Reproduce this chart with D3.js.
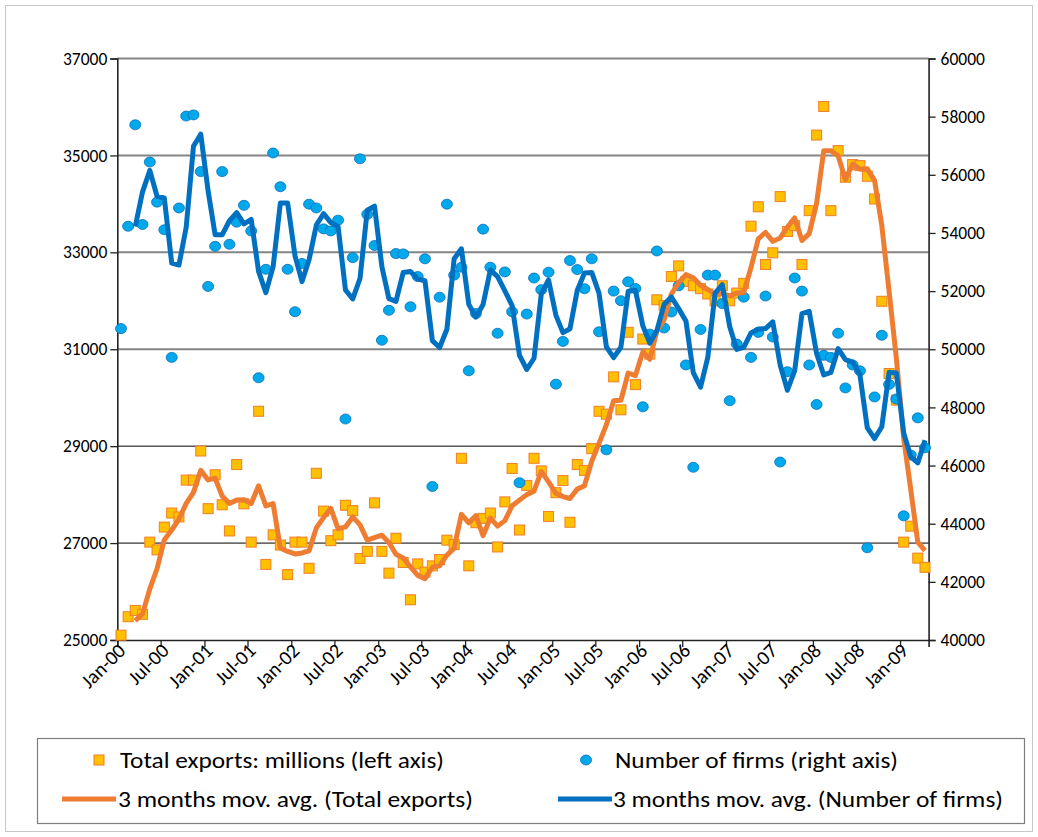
<!DOCTYPE html>
<html><head><meta charset="utf-8">
<script src="https://cdn.jsdelivr.net/npm/d3@7/dist/d3.min.js"></script>
<style>
body{margin:0;background:#fff}
text{font-family:Carlito,Lato,"Open Sans",sans-serif;fill:#000}
</style>
</head><body>
<svg id="chart" width="1038" height="837"></svg>
<script>
// ---- data (monthly, Jan-2000 .. Apr-2009) ----
const firstMonth = new Date(2000, 0, 1);
const exportsMillions = [
25100,25480,25610,25530,27020,26860,27330,27620,27540,28300,28300,28900,
27710,28410,27790,27250,28620,27810,27020,29720,26560,27170,26960,26350,
27020,27020,26480,28440,27660,27050,27170,27780,27670,26680,26830,27830,
26830,26380,27100,26600,25830,26570,26400,26530,26660,27060,26970,28750,
26530,27420,27510,27620,26920,27850,28540,27270,28190,28750,28490,27550,
28040,28290,27430,28620,28500,28950,29720,29660,30430,29750,31350,30270,
31210,30900,32020,31900,32500,32720,32400,32310,32250,32140,32000,32310,
32000,32160,32360,33540,33940,32750,32990,34150,33430,33550,32750,33860,
35420,36010,33860,35100,34550,34810,34790,34570,34100,31990,30500,29950,
27020,27350,26690,26500];
const numberOfFirms = [
50710,54230,57720,54290,56440,55060,54110,49720,54860,58020,58060,56110,
52160,53540,56110,53610,54370,54950,54070,49020,52750,56750,55590,52750,
51290,52950,54990,54860,54140,54070,54440,47600,53150,56550,54640,53570,
50310,51340,53290,53280,51460,52500,53110,45280,51790,54990,52550,52820,
49260,51230,54130,52820,50550,52660,51290,45410,51210,52450,52050,52650,
48800,50270,53050,52740,52080,53110,50600,46540,52000,51670,52320,52090,
48020,50520,53380,50730,51280,52180,49460,45940,50680,52550,52550,51570,
48230,50180,51790,49720,50580,51830,50420,46120,49230,52450,52000,49460,
48100,49790,49720,50550,48670,49460,49260,43170,48360,50480,48790,48290,
44270,46360,47640,46610];
const xTickLabels = ["Jan-00","Jul-00","Jan-01","Jul-01","Jan-02","Jul-02","Jan-03","Jul-03",
  "Jan-04","Jul-04","Jan-05","Jul-05","Jan-06","Jul-06","Jan-07","Jul-07","Jan-08","Jul-08","Jan-09"];
const leftTicks = [25000,27000,29000,31000,33000,35000,37000];
const rightTicks = [40000,42000,44000,46000,48000,50000,52000,54000,56000,58000,60000];
const legendLabels = ["Total exports: millions (left axis)","Number of firms (right axis)",
  "3 months mov. avg. (Total exports)","3 months mov. avg. (Number of firms)"];
const trendPeriod = 3;

// ---- layout ----
const svg = d3.select("#chart");
const L = 117.3, R = 928.6, T = 58.5, B = 640;
const months = d3.timeMonth.range(firstMonth, d3.timeMonth.offset(firstMonth, exportsMillions.length + 1));
const x = d3.scaleTime().domain([firstMonth, months[exportsMillions.length]]).range([L, R]);
const yL = d3.scaleLinear().domain([25000, 37000]).range([B, T]);
const yR = d3.scaleLinear().domain([40000, 60000]).range([B, T]);
const xc = i => (x(months[i]) + x(months[i + 1])) / 2;

// Excel-style trailing moving-average trendline
const movAvg = (arr, p) => arr.map((v, i) => i < p - 1 ? null : d3.mean(arr.slice(i - p + 1, i + 1)));

// outer frame
svg.append("rect").attr("x", 5.5).attr("y", 5.5).attr("width", 1027).attr("height", 826)
  .attr("fill", "#fff").attr("stroke", "#c8c8c8");

// gridlines
leftTicks.forEach(t => {
  if (t === 25000) return;
  const dark = t <= 29000;
  svg.append("line").attr("x1", L).attr("x2", R).attr("y1", yL(t)).attr("y2", yL(t))
    .attr("stroke", dark ? "#000" : "#858585").attr("stroke-width", dark ? 1 : 2);
});

// axes
const axL = svg.append("g").attr("transform", `translate(${L},0)`)
  .call(d3.axisLeft(yL).tickValues(leftTicks).tickSize(7).tickPadding(3).tickFormat(d3.format("d")));
const axR = svg.append("g").attr("transform", `translate(${R},0)`)
  .call(d3.axisRight(yR).tickValues(rightTicks).tickSize(7).tickPadding(5).tickFormat(d3.format("d")));
const tickDates = xTickLabels.map((_, k) => d3.timeMonth.offset(firstMonth, 6 * k));
const axB = svg.append("g").attr("transform", `translate(0,${B})`)
  .call(d3.axisBottom(x).tickValues(tickDates).tickSize(7).tickFormat((d, k) => xTickLabels[k]));
[axL, axR, axB].forEach(a => {
  a.select(".domain").attr("stroke", "#222").attr("stroke-width", 1.6);
  a.selectAll(".tick line").attr("stroke", "#222").attr("stroke-width", 1.3);
  a.selectAll("text").style("font-size", "17.5px").attr("fill", "#000");
});
axB.selectAll(".tick text").style("font-size", "20px").attr("text-anchor", "end")
  .attr("transform", "translate(4,7) rotate(-45)").attr("dy", "0.35em").attr("y", 0).attr("x", 0);

// series markers
svg.append("g").selectAll("rect").data(exportsMillions).join("rect")
  .attr("x", (d, i) => xc(i) - 5).attr("y", d => yL(d) - 5).attr("width", 10).attr("height", 10)
  .attr("fill", "#FFC000").attr("stroke", "#F07F2A").attr("stroke-width", 1);
svg.append("g").selectAll("ellipse").data(numberOfFirms).join("ellipse")
  .attr("cx", (d, i) => xc(i)).attr("cy", d => yR(d)).attr("rx", 5.5).attr("ry", 5)
  .attr("fill", "#00A9EC").attr("stroke", "#0A6FB8").attr("stroke-width", 0.8);

// trendlines
const lineL = d3.line().defined(d => d != null).x((d, i) => xc(i)).y(d => yL(d));
const lineR = d3.line().defined(d => d != null).x((d, i) => xc(i)).y(d => yR(d));
svg.append("path").datum(movAvg(exportsMillions, trendPeriod)).attr("d", lineL)
  .attr("fill", "none").attr("stroke", "#EE7D32").attr("stroke-width", 5).attr("stroke-linejoin", "round");
svg.append("path").datum(movAvg(numberOfFirms, trendPeriod)).attr("d", lineR)
  .attr("fill", "none").attr("stroke", "#0070C0").attr("stroke-width", 5).attr("stroke-linejoin", "round");

// legend
const lg = svg.append("g");
lg.append("rect").attr("x", 37.5).attr("y", 738.5).attr("width", 987).attr("height", 85)
  .attr("fill", "#fff").attr("stroke", "#7f7f7f").attr("stroke-width", 1.2);
const fs = "22px";
const widths = [324, 283, 355, 390];
const addText = (k, xx, yy) => lg.append("text").attr("x", xx).attr("y", yy).attr("dy", "0.35em")
  .style("font-size", fs).attr("textLength", widths[k]).attr("lengthAdjust", "spacingAndGlyphs").text(legendLabels[k]);
lg.append("rect").attr("x", 94).attr("y", 755).attr("width", 10).attr("height", 10)
  .attr("fill", "#FFC000").attr("stroke", "#F07F2A");
addText(0, 120, 760);
lg.append("ellipse").attr("cx", 586).attr("cy", 760).attr("rx", 5.5).attr("ry", 5)
  .attr("fill", "#00A9EC").attr("stroke", "#0A6FB8").attr("stroke-width", 0.8);
addText(1, 615, 760);
lg.append("line").attr("x1", 62).attr("x2", 116).attr("y1", 799).attr("y2", 799)
  .attr("stroke", "#EE7D32").attr("stroke-width", 5);
addText(2, 118, 799);
lg.append("line").attr("x1", 558).attr("x2", 612).attr("y1", 799).attr("y2", 799)
  .attr("stroke", "#0070C0").attr("stroke-width", 5);
addText(3, 613, 799);
</script>
</body></html>
